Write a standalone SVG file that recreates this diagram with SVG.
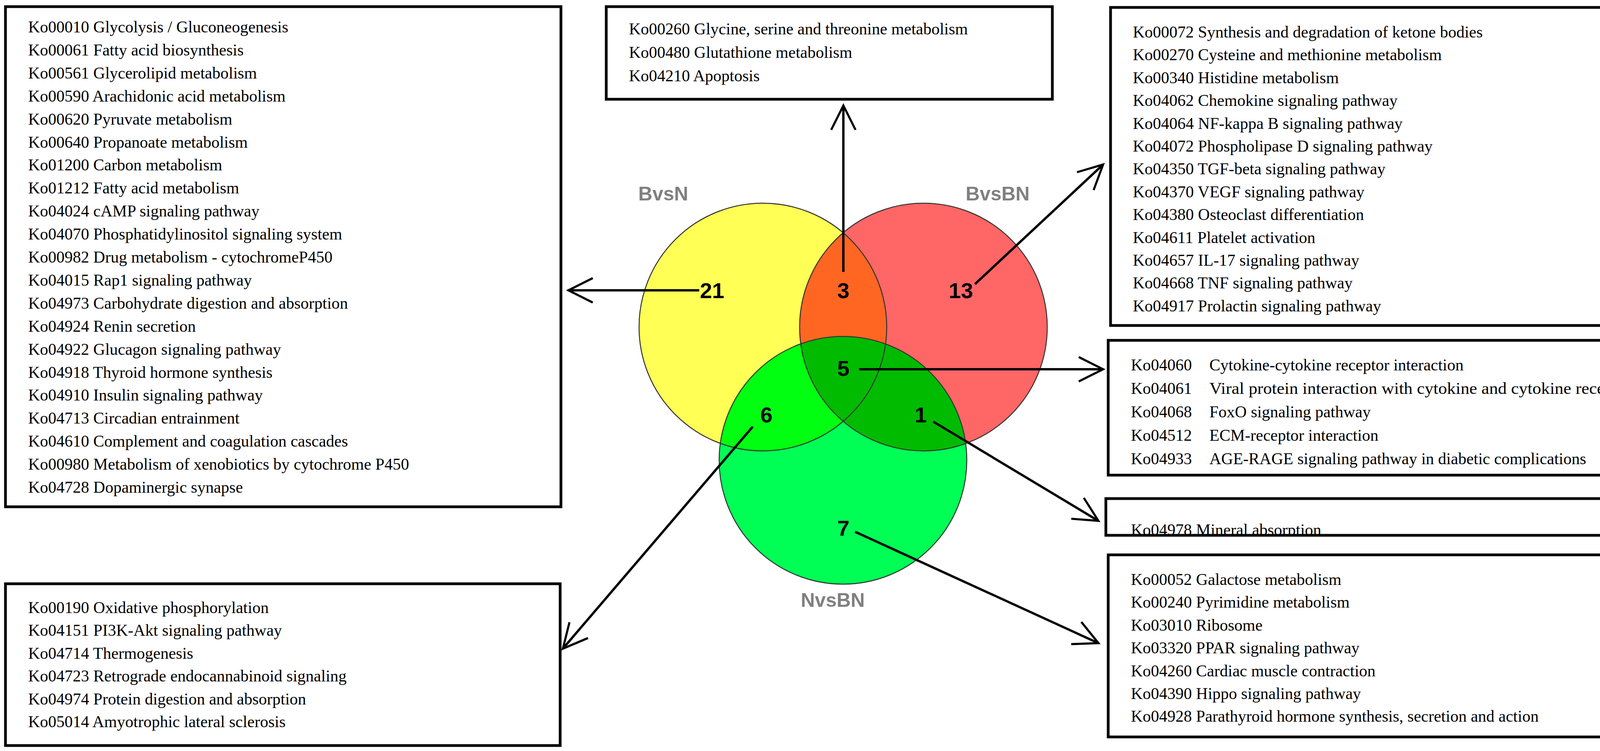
<svg xmlns="http://www.w3.org/2000/svg" width="4323" height="1922" viewBox="0 0 4323 1922">
<style>
.box{fill:#fff;stroke:#000;stroke-width:7}
.t{font-family:"Liberation Serif",serif;font-size:42px;fill:#000}
.n{font-family:"Liberation Sans",Arial,sans-serif;font-size:56px;font-weight:bold;fill:#000;text-anchor:middle}
.lab{font-family:"Liberation Sans",Arial,sans-serif;font-size:50px;font-weight:bold;fill:#808080;text-anchor:middle}
.c{stroke:#333;stroke-width:2.5;fill:none}
.con{stroke:#000;stroke-width:6;fill:none;marker-end:url(#ah)}
</style>
<defs>
<marker id="ah" viewBox="0 0 20 20" refX="18" refY="10" markerWidth="13" markerHeight="13" markerUnits="strokeWidth" orient="auto" overflow="visible">
<path d="M2,2 L18,10 L2,18" fill="none" stroke="#000" stroke-width="1.4"/>
</marker>
<clipPath id="cy"><circle cx="1953" cy="837" r="317"/></clipPath>
<clipPath id="cr"><circle cx="2364" cy="837" r="317"/></clipPath>
<clipPath id="cm"><rect x="2834" y="1279" width="1469" height="88"/></clipPath>
</defs>

<g id="venn">
<circle cx="1953" cy="837" r="317" fill="#ffff55"/>
<circle cx="2364" cy="837" r="317" fill="#ff6666"/>
<circle cx="2364" cy="837" r="317" fill="#ff6622" clip-path="url(#cy)"/>
<circle cx="2158" cy="1178" r="317" fill="#00ff55"/>
<circle cx="2158" cy="1178" r="317" fill="#00ff11" clip-path="url(#cy)"/>
<circle cx="2158" cy="1178" r="317" fill="#00bb00" clip-path="url(#cr)"/>
<circle class="c" cx="1953" cy="837" r="317"/>
<circle class="c" cx="2364" cy="837" r="317"/>
<circle class="c" cx="2158" cy="1178" r="317"/>
<text class="lab" x="1698" y="513">BvsN</text>
<text class="lab" x="2554" y="513">BvsBN</text>
<text class="lab" x="2132" y="1553">NvsBN</text>
<text class="n" x="1823" y="763">21</text>
<text class="n" x="2159" y="763">3</text>
<text class="n" x="2460" y="763">13</text>
<text class="n" x="2159" y="962">5</text>
<text class="n" x="1962" y="1081">6</text>
<text class="n" x="2357" y="1081">1</text>
<text class="n" x="2159" y="1371">7</text>
</g>

<g id="connectors">
<line class="con" x1="1790" y1="743" x2="1455" y2="743"/>
<line class="con" x1="2159" y1="696" x2="2159" y2="270"/>
<line class="con" x1="2496" y1="727" x2="2824" y2="421"/>
<line class="con" x1="2199" y1="945" x2="2824" y2="945"/>
<line class="con" x1="2389" y1="1079" x2="2812" y2="1333"/>
<line class="con" x1="1927" y1="1092" x2="1441" y2="1660"/>
<line class="con" x1="2189" y1="1361" x2="2812" y2="1646"/>
</g>

<g id="box-left-top">
<rect class="box" x="14" y="17" width="1422" height="1280"/>
<text class="t" x="72" y="83">Ko00010 Glycolysis / Gluconeogenesis</text>
<text class="t" x="72" y="142">Ko00061 Fatty acid biosynthesis</text>
<text class="t" x="72" y="201">Ko00561 Glycerolipid  metabolism</text>
<text class="t" x="72" y="260">Ko00590 Arachidonic acid metabolism</text>
<text class="t" x="72" y="319">Ko00620 Pyruvate metabolism</text>
<text class="t" x="72" y="378">Ko00640 Propanoate metabolism</text>
<text class="t" x="72" y="436">Ko01200 Carbon metabolism</text>
<text class="t" x="72" y="495">Ko01212 Fatty acid metabolism</text>
<text class="t" x="72" y="554">Ko04024 cAMP signaling pathway</text>
<text class="t" x="72" y="613">Ko04070 Phosphatidylinositol signaling system</text>
<text class="t" x="72" y="672">Ko00982 Drug metabolism - cytochromeP450</text>
<text class="t" x="72" y="731">Ko04015 Rap1 signaling pathway</text>
<text class="t" x="72" y="790">Ko04973 Carbohydrate digestion and absorption</text>
<text class="t" x="72" y="849">Ko04924 Renin secretion</text>
<text class="t" x="72" y="908">Ko04922 Glucagon signaling pathway</text>
<text class="t" x="72" y="967">Ko04918 Thyroid hormone synthesis</text>
<text class="t" x="72" y="1025">Ko04910 Insulin signaling pathway</text>
<text class="t" x="72" y="1084">Ko04713 Circadian entrainment</text>
<text class="t" x="72" y="1143">Ko04610 Complement and coagulation cascades</text>
<text class="t" x="72" y="1202">Ko00980 Metabolism of xenobiotics by cytochrome P450</text>
<text class="t" x="72" y="1261">Ko04728 Dopaminergic synapse</text>
</g>

<g id="box-top">
<rect class="box" x="1552" y="17" width="1142" height="237"/>
<text class="t" x="1610" y="88">Ko00260 Glycine, serine and threonine metabolism</text>
<text class="t" x="1610" y="148">Ko00480 Glutathione metabolism</text>
<text class="t" x="1610" y="208">Ko04210 Apoptosis</text>
</g>

<g id="box-right-top">
<rect class="box" x="2843" y="19" width="1458" height="814"/>
<text class="t" x="2900" y="96">Ko00072 Synthesis and degradation of ketone bodies</text>
<text class="t" x="2900" y="154">Ko00270 Cysteine and methionine metabolism</text>
<text class="t" x="2900" y="213">Ko00340 Histidine metabolism</text>
<text class="t" x="2900" y="271">Ko04062 Chemokine signaling pathway</text>
<text class="t" x="2900" y="330">Ko04064 NF-kappa B signaling pathway</text>
<text class="t" x="2900" y="388">Ko04072 Phospholipase D signaling pathway</text>
<text class="t" x="2900" y="446">Ko04350 TGF-beta signaling pathway</text>
<text class="t" x="2900" y="505">Ko04370 VEGF signaling pathway</text>
<text class="t" x="2900" y="563">Ko04380 Osteoclast differentiation</text>
<text class="t" x="2900" y="622">Ko04611 Platelet  activation</text>
<text class="t" x="2900" y="680">Ko04657 IL-17 signaling pathway</text>
<text class="t" x="2900" y="738">Ko04668 TNF signaling pathway</text>
<text class="t" x="2900" y="797">Ko04917 Prolactin  signaling pathway</text>
</g>

<g id="box-right-5">
<rect class="box" x="2837" y="871" width="1464" height="345"/>
<text class="t" x="2895" y="948">Ko04060</text><text class="t" x="3096" y="948">Cytokine-cytokine receptor interaction</text>
<text class="t" x="2895" y="1008">Ko04061</text><text class="t" x="3096" y="1008" textLength="1084" lengthAdjust="spacingAndGlyphs">Viral protein interaction with cytokine and cytokine receptor</text>
<text class="t" x="2895" y="1068">Ko04068</text><text class="t" x="3096" y="1068">FoxO signaling pathway</text>
<text class="t" x="2895" y="1128">Ko04512</text><text class="t" x="3096" y="1128">ECM-receptor interaction</text>
<text class="t" x="2895" y="1188">Ko04933</text><text class="t" x="3096" y="1188">AGE-RAGE signaling pathway in diabetic complications</text>
</g>

<g id="box-mineral">
<rect class="box" x="2831" y="1276" width="1475" height="94"/>
<text class="t" x="2895" y="1370" clip-path="url(#cm)">Ko04978 Mineral absorption</text>
</g>

<g id="box-right-bottom">
<rect class="box" x="2837" y="1420" width="1469" height="466"/>
<text class="t" x="2895" y="1497">Ko00052 Galactose metabolism</text>
<text class="t" x="2895" y="1555">Ko00240 Pyrimidine metabolism</text>
<text class="t" x="2895" y="1614">Ko03010 Ribosome</text>
<text class="t" x="2895" y="1672">Ko03320 PPAR signaling pathway</text>
<text class="t" x="2895" y="1731">Ko04260 Cardiac muscle contraction</text>
<text class="t" x="2895" y="1789">Ko04390 Hippo signaling pathway</text>
<text class="t" x="2895" y="1847">Ko04928 Parathyroid hormone synthesis, secretion and action</text>
</g>

<g id="box-left-bottom">
<rect class="box" x="14" y="1494" width="1420" height="414"/>
<text class="t" x="72" y="1569">Ko00190 Oxidative phosphorylation</text>
<text class="t" x="72" y="1627">Ko04151 PI3K-Akt signaling pathway</text>
<text class="t" x="72" y="1686">Ko04714 Thermogenesis</text>
<text class="t" x="72" y="1744">Ko04723 Retrograde endocannabinoid signaling</text>
<text class="t" x="72" y="1803">Ko04974 Protein digestion and absorption</text>
<text class="t" x="72" y="1861">Ko05014 Amyotrophic lateral sclerosis</text>
</g>
</svg>
